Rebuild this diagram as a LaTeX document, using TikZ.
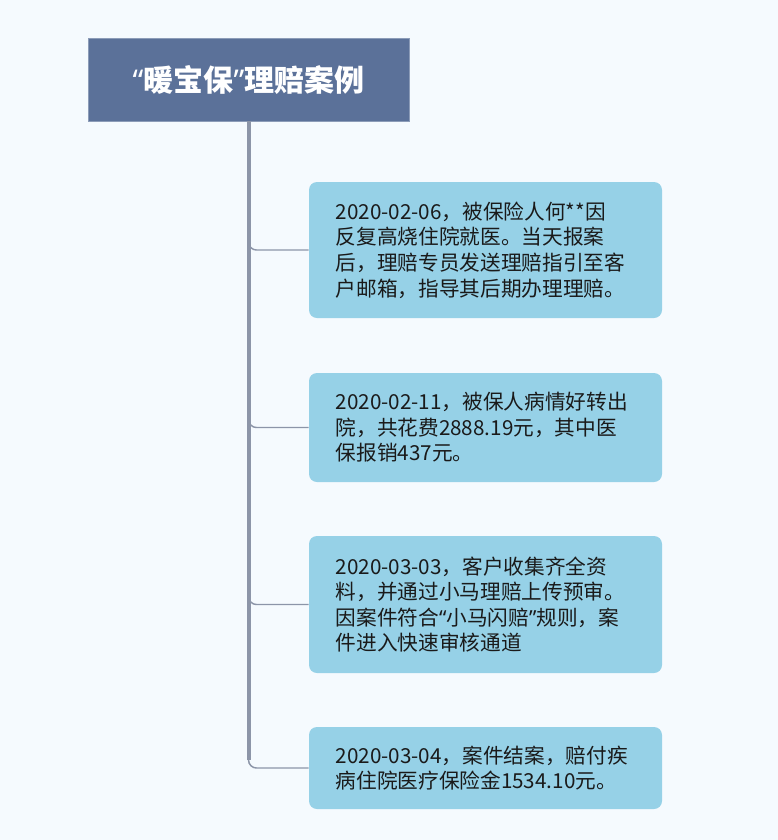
\documentclass[tikz,border=0pt]{standalone}
\usepackage{fontspec}
\setmainfont{Noto Sans CJK SC}
\newfontfamily\qfont{Noto Sans}
\newcommand\quoted[1]{{\qfont “}#1{\qfont ”}}
\usetikzlibrary{positioning}
\definecolor{bgcol}{HTML}{F5FAFE}
\definecolor{titlecol}{HTML}{5B7199}
\definecolor{boxcol}{HTML}{96D1E7}
\definecolor{linecol}{HTML}{8C95A8}
\definecolor{textcol}{HTML}{1A1A1A}

\begin{document}
\begin{tikzpicture}[x=0.75pt,y=-0.75pt,
  titlebox/.style={fill=titlecol,draw=titlecol!70!white,text=white,font=\fontsize{22.5}{26}\selectfont\bfseries,
    minimum width=240.75pt,minimum height=62.25pt,inner sep=0pt},
  casebox/.style={fill=boxcol,rounded corners=6pt,text=textcol,font=\fontsize{15.5}{19.2}\selectfont,
    align=left,text width=224.75pt,inner xsep=20pt,inner ysep=0pt,minimum width=264.75pt},
  trunk/.style={draw=linecol,line width=3pt},
  branch/.style={draw=linecol,line width=1.1pt,rounded corners=6pt}]
  \fill[bgcol] (0,0) rectangle (778,840);
  \useasboundingbox (0,0) rectangle (778,840);
  % title and the four cases
  \node[titlebox] (title) at (248.5,79.5) {{\qfont\bfseries “}暖宝保{\qfont\bfseries ”}理赔案例};
  \node[casebox,minimum height=102pt] (b1) at (485.5,250)
    {2020-02-06，被保险人何**因\\反复高烧住院就医。当天报案\\后，理赔专员发送理赔指引至客\\户邮箱，指导其后期办理理赔。};
  \node[casebox,minimum height=81.75pt] (b2) at (485.5,427.5)
    {2020-02-11，被保人病情好转出\\院，共花费2888.19元，其中医\\保报销437元。};
  \node[casebox,minimum height=102.75pt] (b3) at (485.5,604.5)
    {2020-03-03，客户收集齐全资\\料，并通过小马理赔上传预审。\\因案件符合\quoted{小马闪赔}规则，案\\件进入快速审核通道};
  \node[casebox,minimum height=61.5pt] (b4) at (485.5,768)
    {2020-03-04，案件结案，赔付疾\\病住院医疗保险金1534.10元。};
  % connectors
  \coordinate (trunkend) at (title.south |- 0,760);
  \draw[trunk] (title.south) -- (trunkend);
  \foreach \b in {b1,b2,b3,b4}
    \draw[branch] (title.south) |- (\b.west);
\end{tikzpicture}
\end{document}
